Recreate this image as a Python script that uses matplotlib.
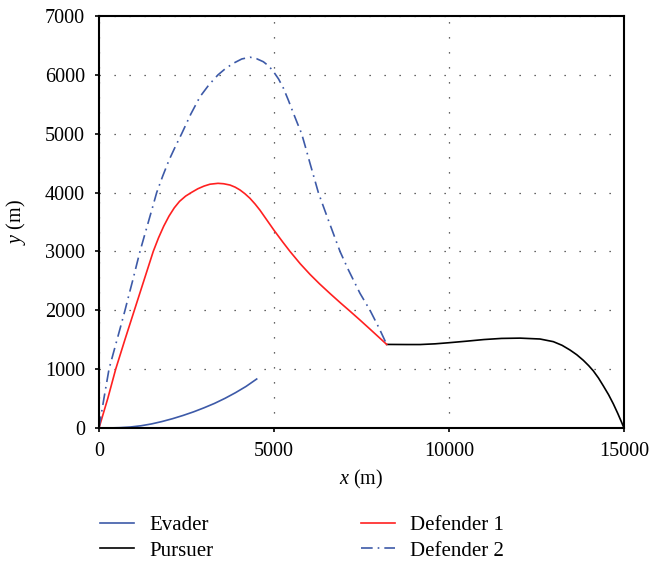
import matplotlib
matplotlib.use("Agg")
import matplotlib.pyplot as plt

# траектории (м)
evader_x = [0, 300, 600, 900, 1200, 1500, 1800, 2100, 2400, 2700,
            3000, 3300, 3600, 3900, 4200, 4505]
evader_y = [0, 1, 6, 17, 38, 69, 110, 158, 213, 274,
            343, 418, 504, 600, 706, 832]

pursuer_x = [8220, 8500, 8800, 9171, 9600, 9981, 10500, 11000, 11500, 12029,
             12600, 12981, 13230, 13457, 13650, 13838, 13990, 14124, 14270,
             14410, 14560, 14695, 14820, 14933, 15000]
pursuer_y = [1420, 1419, 1418, 1418, 1430, 1448, 1475, 1503, 1522, 1527,
             1512, 1467, 1405, 1325, 1245, 1150, 1060, 970, 850,
             715, 565, 410, 250, 95, 0]

def1_x = [0, 250, 477, 740, 1010, 1280, 1550, 1700, 1850, 2000, 2150, 2300,
          2475, 2650, 2825, 3000, 3171, 3400, 3560, 3743, 3890, 4029, 4170,
          4314, 4460, 4600, 4800, 5000, 5250, 5457, 5750, 6029, 6300, 6600,
          6900, 7171, 7450, 7743, 8000, 8220]
def1_y = [0, 500, 1000, 1500, 2000, 2500, 3000, 3230, 3430, 3600, 3740, 3850,
          3940, 4005, 4065, 4110, 4142, 4157, 4150, 4128, 4092, 4044, 3980,
          3902, 3805, 3700, 3530, 3360, 3160, 3000, 2790, 2610, 2450, 2285,
          2125, 1985, 1838, 1680, 1540, 1420]

def2_x = [0, 140, 286, 400, 515, 630, 743, 850, 960, 1065, 1171, 1290, 1410,
          1530, 1648, 1820, 2000, 2180, 2362, 2620, 2886, 3140, 3400, 3620,
          3850, 4080, 4314, 4500, 4695, 4850, 4981, 5130, 5267, 5410, 5552,
          5670, 5790, 5910, 6029, 6150, 6267, 6410, 6552, 6720, 6886, 7124,
          7457, 7743, 8000, 8220]
def2_y = [0, 500, 1000, 1250, 1500, 1750, 2000, 2250, 2500, 2750, 3000, 3250,
          3500, 3750, 4000, 4280, 4550, 4780, 5000, 5330, 5629, 5830, 6000,
          6110, 6200, 6270, 6300, 6275, 6223, 6150, 6059, 5930, 5776, 5570,
          5351, 5175, 5000, 4750, 4496, 4245, 4000, 3765, 3534, 3265, 3000,
          2688, 2288, 2000, 1700, 1420]

plt.rcParams["font.family"] = ["Liberation Serif", "DejaVu Serif"]
plt.rcParams["mathtext.fontset"] = "custom"
plt.rcParams["mathtext.rm"] = "Liberation Serif"
plt.rcParams["mathtext.it"] = "Liberation Serif:italic"

W, H = 649, 563
fig = plt.figure(figsize=(W / 100, H / 100), dpi=100)
ax = fig.add_axes([99 / W, 1 - 428 / H, 525 / W, 412 / H])

blue = "#3d5aa8"
l_ev, = ax.plot(evader_x, evader_y, color=blue, lw=1.2, label="Evader")
l_pu, = ax.plot(pursuer_x, pursuer_y, color="black", lw=1.2, label="Pursuer")
l_d1, = ax.plot(def1_x, def1_y, color="#ff2020", lw=1.2, label="Defender 1")
l_d2, = ax.plot(def2_x, def2_y, color=blue, lw=1.2,
                linestyle=(0, (7, 3, 1, 3)), label="Defender 2")

ax.set_xlim(0, 15000)
ax.set_ylim(0, 7000)
ax.set_xticks([0, 5000, 10000, 15000])
ax.set_yticks(range(0, 7001, 1000))
ax.grid(True, color="#333333", linestyle=(0, (1, 11)), linewidth=0.9)
for s in ax.spines.values():
    s.set_linewidth(1.5)
ax.tick_params(direction="out", length=3, width=1.2, labelsize=14.5, pad=7)

ax.set_xlabel("$x$ (m)", fontsize=14.5, labelpad=5)
ax.set_ylabel("$y$ (m)", fontsize=14.5, labelpad=12)

# две колонки легенды, каждая отдельно
kw = dict(frameon=False, fontsize=15, handlelength=1.63, handletextpad=0.72,
          labelspacing=0.3, borderaxespad=0, borderpad=0, loc="center left")
fig.legend([l_ev, l_pu], ["Evader", "Pursuer"],
           bbox_to_anchor=(100 / W, 1 - 538 / H), **kw)
fig.legend([l_d1, l_d2], ["Defender 1", "Defender 2"],
           bbox_to_anchor=(361 / W, 1 - 538 / H), **kw)

fig.savefig("out.png", dpi=100)
